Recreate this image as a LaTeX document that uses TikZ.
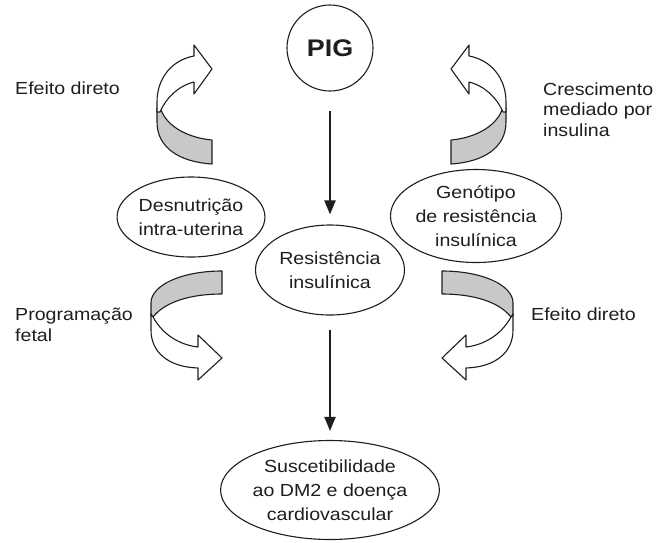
\documentclass[tikz,border=0pt]{standalone}
\usepackage{fontspec}
\setmainfont{Liberation Sans}[FakeStretch=1.12]
\usetikzlibrary{shapes.geometric,arrows.meta}
\definecolor{ribgray}{RGB}{200,200,200}
\definecolor{ink}{RGB}{30,30,30}
\newcommand\RibTopShape{%
  \filldraw[ribbon, fill=ribgray] (161,110) .. controls (168,128) and (190,138) .. (212,140) -- (212,164) .. controls (180,162) and (157,148) .. (157,122) -- (157,108) -- cycle;
  \filldraw[ribbon, fill=white] (194,82) -- (194,94) -- (212,69) -- (194,45) -- (194,56) .. controls (172,60) and (157,78) .. (157,102) -- (157,112) -- (160,112) .. controls (166,98) and (178,86) .. (194,82) -- cycle;
}
\newcommand\RibBotShape{%
  \filldraw[ribbon, fill=ribgray] (222,271) .. controls (182,271) and (151,285) .. (151,303) -- (151,316) -- (153,317) .. controls (165,302) and (190,294) .. (222,294) -- cycle;
  \filldraw[ribbon, fill=white] (153,317) .. controls (163,335) and (180,345) .. (198,347) -- (198,335) -- (222,358) -- (198,380) -- (198,368) .. controls (168,367) and (151,352) .. (151,330) -- (151,314) -- cycle;
}
\begin{document}
\begin{tikzpicture}[x=1pt,y=-1pt, line join=round, color=ink,
  lbl/.style={font=\fontsize{17.5}{20.5}\selectfont, inner sep=0, align=left, text=ink},
  bub/.style={draw=ink, ellipse, line width=1.1pt, inner sep=0, align=center, text=ink, font=\fontsize{17.5}{24}\selectfont},
  ribbon/.style={draw=ink, line width=1.1pt},
  flow/.style={draw=ink, line width=2pt, -{Triangle[length=14pt,width=11pt]}}]
\useasboundingbox (0,0) rectangle (659,542);
\fill[white] (0,0) rectangle (659,542);

\node[draw=ink, circle, line width=1.1pt, minimum size=86pt, inner sep=0, text=ink, font=\bfseries\fontsize{24}{28}\selectfont] (pig) at (330,48) {PIG};

\node[bub, minimum width=142pt, minimum height=80pt] (desn) at (191,217) {Desnutrição\\intra-uterina};
\node[bub, minimum width=141pt, minimum height=93pt] (geno) at (476,216) {Genótipo\\de resistência\\insulínica};
\node[bub, minimum width=149pt, minimum height=90pt] (resi) at (330,270) {Resistência\\insulínica};
\node[bub, minimum width=165pt, minimum height=99pt] (susc) at (330,490) {Suscetibilidade\\ao DM2 e doença\\cardiovascular};

\draw[flow, shorten <=19pt, shorten >=10pt] (pig) -- (resi);
\draw[flow, shorten <=14pt, shorten >=9pt] (resi) -- (susc);

\RibTopShape
\RibBotShape
\begin{scope}[shift={(663,0)}, xscale=-1]
  \RibTopShape
\end{scope}
\begin{scope}[shift={(664,0)}, xscale=-1]
  \RibBotShape
\end{scope}

\node[lbl, anchor=base west] (ed1) at (15,94) {Efeito direto};
\node[lbl, anchor=base west] (cmi) at (543,136) {Crescimento\\mediado por\\insulina};
\node[lbl, anchor=base west] (pf) at (15,341) {Programação\\fetal};
\node[lbl, anchor=base west] (ed2) at (531,320) {Efeito direto};
\end{tikzpicture}
\end{document}
